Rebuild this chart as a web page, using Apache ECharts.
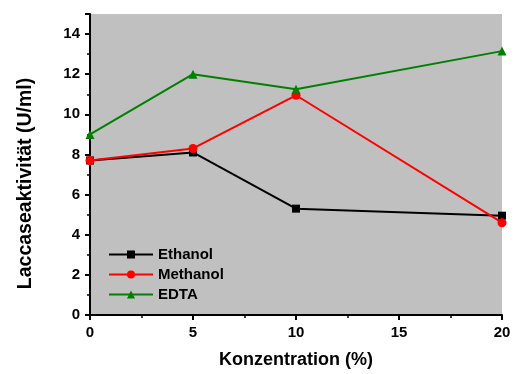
<!DOCTYPE html>
<html><head><meta charset="utf-8">
<script src="https://cdn.jsdelivr.net/npm/echarts@6/dist/echarts.min.js"></script>
<style>html,body{margin:0;padding:0;background:#fff}#c{width:514px;height:374px}</style>
</head><body><div id="c"></div>
<script>
const xValues = [0, 5, 10, 20];
const ethanol = [7.7, 8.1, 5.3, 4.95];
const methanol = [7.7, 8.3, 10.95, 4.6];
const edta = [9.0, 12.0, 11.25, 13.15];
const seriesNames = ['Ethanol', 'Methanol', 'EDTA'];
const xTitle = 'Konzentration (%)';
const yTitle = 'Laccaseaktivität (U/ml)';

const pair = arr => xValues.map((x, i) => [x, arr[i]]);
const font = 'Arial, "Liberation Sans", sans-serif';
const chart = echarts.init(document.getElementById('c'), null, {renderer: 'canvas'});
chart.setOption({
  animation: false,
  grid: {left: 90, top: 14, right: 12, bottom: 57, show: true, backgroundColor: '#c0c0c0', borderWidth: 0},
  legend: {
    orient: 'vertical', left: 103, top: 242, itemWidth: 44, itemHeight: 10, itemGap: 5,
    textStyle: {fontFamily: font, fontWeight: 'bold', fontSize: 15, lineHeight: 14, color: '#000'},
    data: seriesNames
  },
  xAxis: {
    type: 'value', min: 0, max: 20, interval: 5,
    name: xTitle, nameLocation: 'middle', nameGap: 36,
    nameTextStyle: {fontFamily: font, fontWeight: 'bold', fontSize: 18, color: '#000'},
    axisLine: {show: true, lineStyle: {color: '#000', width: 2}},
    axisTick: {show: true, length: 5, lineStyle: {color: '#000', width: 2}},
    minorTick: {show: true, splitNumber: 2, length: 3, lineStyle: {color: '#000', width: 1.5}},
    axisLabel: {fontFamily: font, fontWeight: 'bold', fontSize: 15, color: '#000', margin: 10},
    splitLine: {show: false}
  },
  yAxis: [{
    type: 'value', min: 0, max: 15, interval: 2,
    name: yTitle, nameLocation: 'middle', nameGap: 54, nameRotate: 90,
    nameTextStyle: {fontFamily: font, fontWeight: 'bold', fontSize: 19.5, color: '#000', padding: [0, 38, 0, 0]},
    axisLine: {show: true, lineStyle: {color: '#000', width: 2}},
    axisTick: {show: true, length: 5, lineStyle: {color: '#000', width: 2}},
    axisLabel: {fontFamily: font, fontWeight: 'bold', fontSize: 15, color: '#000', margin: 10,
      formatter: v => (v % 2 === 0 && v <= 14) ? v : ''},
    splitLine: {show: false}
  }, {
    type: 'value', min: 0, max: 15, interval: 1, position: 'left', offset: 0,
    axisLine: {show: false},
    axisTick: {show: true, length: 3, lineStyle: {color: '#000', width: 1.5}},
    axisLabel: {show: false},
    splitLine: {show: false}
  }],
  series: [
    {name: seriesNames[0], type: 'line', data: pair(ethanol), symbol: 'rect', symbolSize: 8,
     lineStyle: {color: '#000', width: 2}, itemStyle: {color: '#000'}, clip: false},
    {name: seriesNames[1], type: 'line', data: pair(methanol), symbol: 'circle', symbolSize: 9,
     lineStyle: {color: '#ff0000', width: 2}, itemStyle: {color: '#ff0000'}, clip: false},
    {name: seriesNames[2], type: 'line', data: pair(edta), symbol: 'triangle', symbolSize: 9,
     lineStyle: {color: '#008000', width: 2}, itemStyle: {color: '#008000'}, clip: false}
  ]
});
</script></body></html>
